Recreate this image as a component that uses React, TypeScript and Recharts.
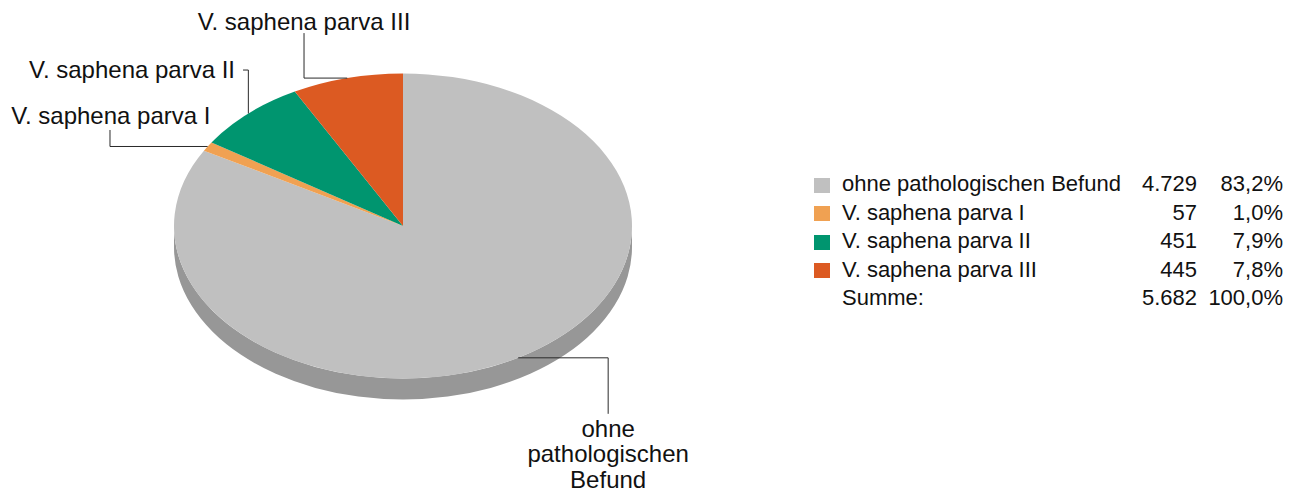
import React from 'react';
import { PieChart, Pie, Cell, Legend } from 'recharts';

// data
const categories = [
  'ohne pathologischen Befund',
  'V. saphena parva I',
  'V. saphena parva II',
  'V. saphena parva III',
];
const counts = [4729, 57, 451, 445];
const colors = ['#c0c0c0', '#f0a152', '#00956f', '#dc5a22'];
const sideColors = ['#979797', '#c27f3e', '#00755a', '#b0481b'];

const data = categories.map((name, i) => ({ name, value: counts[i] }));
const total = counts.reduce((a, b) => a + b, 0);

const W = 1296;
const H = 493;
const CX = 403;
const CY = 226;
const R = 229;
const K = 152.5 / 229; // vertical squash of the tilted disc
const DEPTH = 21;
const RAD = Math.PI / 180;
const FONT = '"Liberation Sans", Arial, Helvetica, sans-serif';

// leader line elbows, relative to the slice's outer mid point
const labelLayout = [
  { first: 'h', dx: 90, dy: 56, anchor: 'middle', tx: 0, ty: 22.7, wrap: true },
  { first: 'h', dx: -97.6, dy: -16.5, anchor: 'middle', tx: 0.8, ty: -6, wrap: false },
  { first: 'v', dx: -5.3, dy: -43.5, anchor: 'end', tx: -8, ty: 8, wrap: false },
  { first: 'h', dx: -43.2, dy: -45, anchor: 'middle', tx: 0, ty: -3, wrap: false },
];

const pt = (cx: number, cy: number, r: number, deg: number) => [
  cx + r * Math.cos(deg * RAD),
  cy - r * K * Math.sin(deg * RAD),
];

const fmtInt = (v: number) => String(v).replace(/\B(?=(\d{3})+(?!\d))/g, '.');
const fmtPct = (v: number) => (v * 100).toFixed(1).replace('.', ',') + '%';

const TopSector = (props: any) => {
  const { cx, cy, outerRadius: r, startAngle, endAngle, fill } = props;
  const [x1, y1] = pt(cx, cy, r, startAngle);
  const [x2, y2] = pt(cx, cy, r, endAngle);
  const large = Math.abs(endAngle - startAngle) > 180 ? 1 : 0;
  const sweep = endAngle < startAngle ? 1 : 0;
  const d = `M${cx},${cy} L${x1},${y1} A${r},${r * K} 0 ${large} ${sweep} ${x2},${y2} Z`;
  return <path d={d} fill={fill} stroke="none" />;
};

const SideSector = (props: any) => {
  const { cx, cy, outerRadius: r, startAngle, endAngle, fill } = props;
  const lo = Math.min(startAngle, endAngle);
  const hi = Math.max(startAngle, endAngle);
  const parts: number[][] = [];
  for (let n = -2; n <= 2; n++) {
    const a = Math.max(lo, 180 + 360 * n);
    const b = Math.min(hi, 360 + 360 * n);
    if (b > a) parts.push([a, b]);
  }
  return (
    <g>
      {parts.map(([a, b], j) => {
        const [x1, y1] = pt(cx, cy, r, a);
        const [x2, y2] = pt(cx, cy, r, b);
        const large = b - a > 180 ? 1 : 0;
        const d =
          `M${x1},${y1} A${r},${r * K} 0 ${large} 0 ${x2},${y2} ` +
          `L${x2},${y2 + DEPTH} A${r},${r * K} 0 ${large} 1 ${x1},${y1 + DEPTH} Z`;
        return <path key={j} d={d} fill={fill} stroke="none" />;
      })}
    </g>
  );
};

const renderLabel = (props: any) => {
  const { cx, cy, outerRadius, midAngle, index } = props;
  const cfg = labelLayout[index];
  const [ax, ay] = pt(cx, cy, outerRadius, midAngle);
  const ex = ax + cfg.dx;
  const ey = ay + cfg.dy;
  const d = cfg.first === 'h' ? `M${ax},${ay} H${ex} V${ey}` : `M${ax},${ay} V${ey} H${ex}`;
  const lines = cfg.wrap ? categories[index].split(' ') : [categories[index]];
  return (
    <g>
      <path d={d} fill="none" stroke="#2a2a2a" strokeWidth={1} />
      <text
        x={ex + cfg.tx}
        y={ey + cfg.ty}
        textAnchor={cfg.anchor}
        fontFamily={FONT}
        fontSize={24}
        fill="#111"
      >
        {lines.map((line, i) => (
          <tspan key={i} x={ex + cfg.tx} dy={i === 0 ? 0 : 25.7}>
            {line}
          </tspan>
        ))}
      </text>
    </g>
  );
};

const LegendTable = () => {
  const rows = [
    ...categories.map((name, i) => ({ name, value: counts[i], color: colors[i] })),
    { name: 'Summe:', value: total, color: null as string | null },
  ];
  return (
    <div style={{ position: 'relative', width: 469, fontFamily: FONT, fontSize: 22, color: '#111' }}>
      {rows.map((row, i) => (
        <div key={i} style={{ position: 'absolute', left: 0, top: i * 28.5, width: 469, height: 28.5, lineHeight: '28.5px', whiteSpace: 'nowrap' }}>
          {row.color && (
            <span style={{ position: 'absolute', left: 0, top: 7.5, width: 16, height: 15, background: row.color }} />
          )}
          <span style={{ position: 'absolute', left: 28 }}>{row.name}</span>
          <span style={{ position: 'absolute', right: 86 }}>{fmtInt(row.value)}</span>
          <span style={{ position: 'absolute', right: 0 }}>{fmtPct(row.value / total)}</span>
        </div>
      ))}
    </div>
  );
};

export default function App() {
  return (
    <div style={{ position: 'absolute', left: 0, top: 0, width: W, height: H, background: '#fff' }}>
      <PieChart width={W} height={H} margin={{ top: 0, right: 0, bottom: 0, left: 0 }}>
        <Pie
          data={data}
          dataKey="value"
          nameKey="name"
          cx={CX}
          cy={CY}
          outerRadius={R}
          startAngle={90}
          endAngle={-270}
          stroke="none"
          shape={SideSector}
          activeShape={SideSector}
          inactiveShape={SideSector}
          isAnimationActive={false}
          legendType="none"
        >
          {data.map((_, i) => (
            <Cell key={i} fill={sideColors[i]} />
          ))}
        </Pie>
        <Pie
          data={data}
          dataKey="value"
          nameKey="name"
          cx={CX}
          cy={CY}
          outerRadius={R}
          startAngle={90}
          endAngle={-270}
          stroke="none"
          shape={TopSector}
          activeShape={TopSector}
          inactiveShape={TopSector}
          label={renderLabel}
          labelLine={false}
          isAnimationActive={false}
        >
          {data.map((_, i) => (
            <Cell key={i} fill={colors[i]} />
          ))}
        </Pie>
        <Legend
          content={() => <LegendTable />}
          wrapperStyle={{ position: 'absolute', left: 814, top: 170, width: 469, height: 145 }}
        />
      </PieChart>
    </div>
  );
}
